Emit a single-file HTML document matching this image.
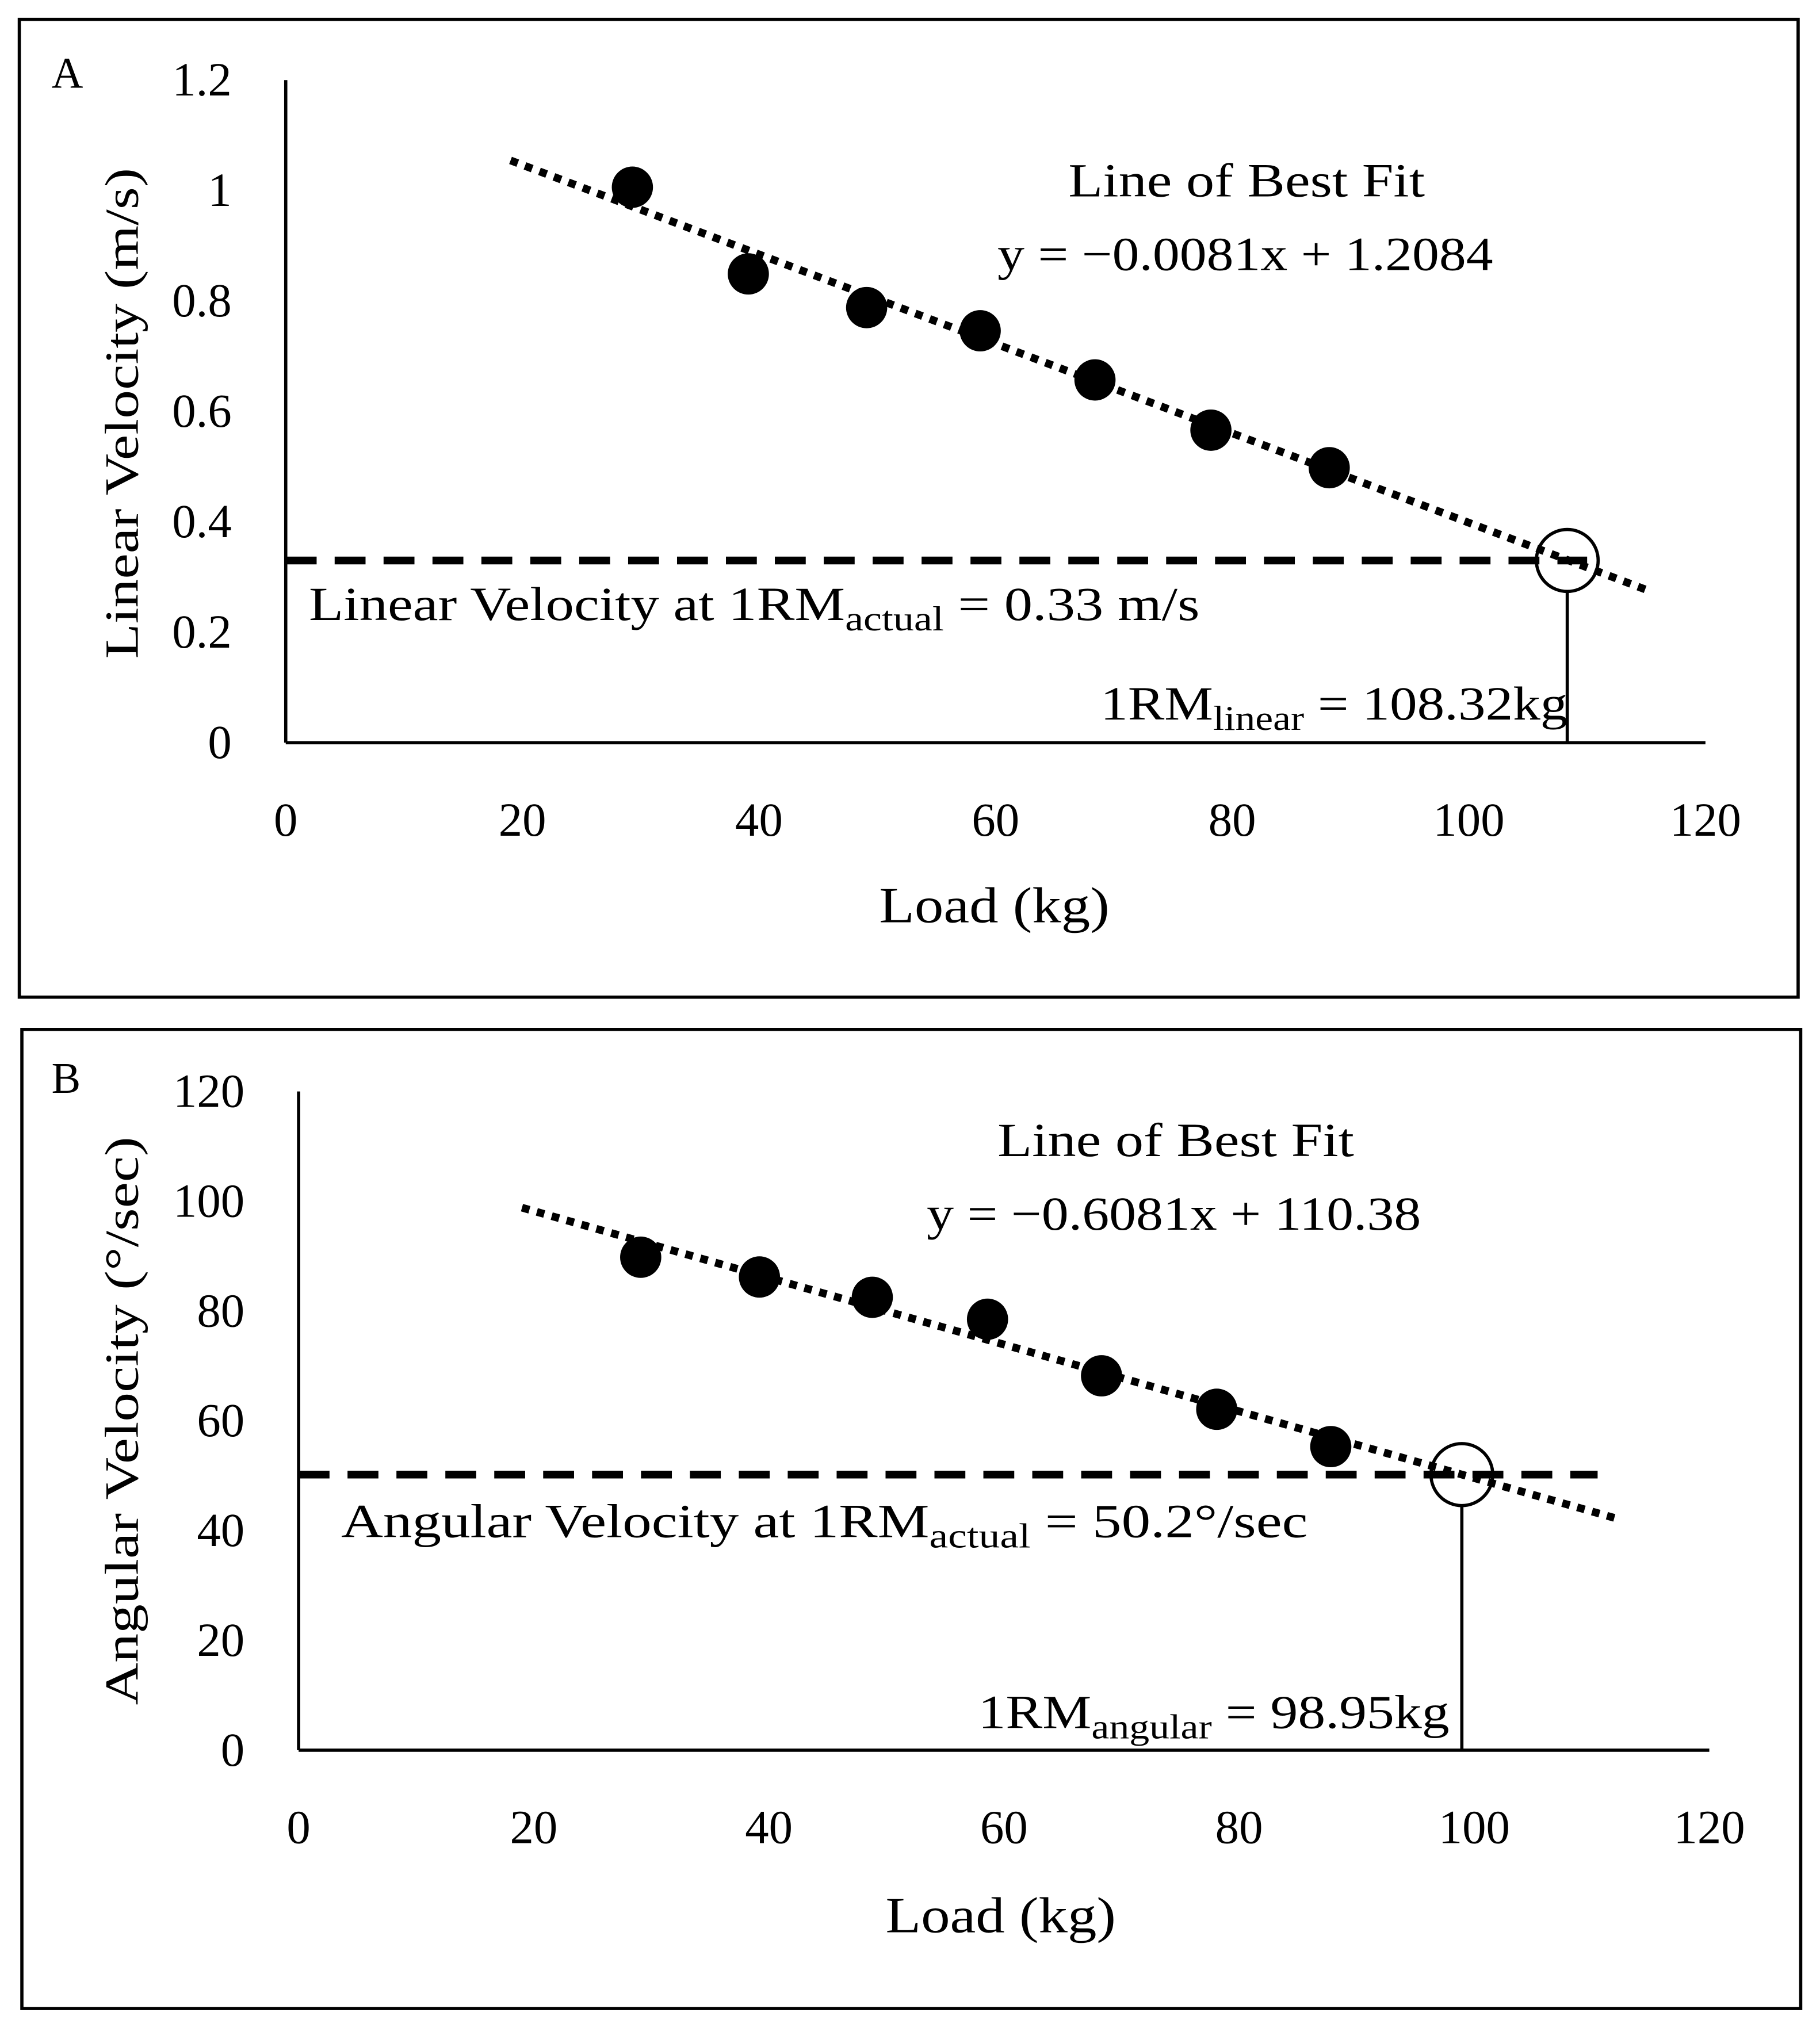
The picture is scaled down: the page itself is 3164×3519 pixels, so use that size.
<!DOCTYPE html>
<html><head><meta charset="utf-8">
<style>
html,body{margin:0;padding:0;background:#fff;}
svg{display:block;}
text{font-family:"Liberation Serif",serif;fill:#000;}
</style></head>
<body>
<svg id="fig" width="3164" height="3519" viewBox="0 0 1414 1567" preserveAspectRatio="none" xmlns="http://www.w3.org/2000/svg">
<rect x="15" y="15" width="1382" height="757" fill="#fff" stroke="#000" stroke-width="2.5"/>
<rect x="17" y="797" width="1382" height="758" fill="#fff" stroke="#000" stroke-width="2.5"/>
<g id="pa"></g>
<g id="pb"></g>
</svg>
<script>
const loadsA = [29.3, 39.1, 49.1, 58.7, 68.4, 78.2, 88.2];
const velA = [1.006, 0.849, 0.788, 0.746, 0.657, 0.566, 0.498];
const fitA = [-0.0081, 1.2084];
const refA = [0.33, 108.32];
const xTicks = [0, 20, 40, 60, 80, 100, 120];
const yTicksA = [0, 0.2, 0.4, 0.6, 0.8, 1, 1.2];
const loadsB = [29.1, 39.2, 48.8, 58.6, 68.3, 78.1, 87.8];
const velB = [89.8, 86.2, 82.5, 78.5, 68.2, 62.1, 55.3];
const fitB = [-0.6081, 110.38];
const refB = [50.2, 98.95];
const yTicksB = [0, 20, 40, 60, 80, 100, 120];

const NS = "http://www.w3.org/2000/svg";
function mk(parent, tag, attrs, txt){
  const e = document.createElementNS(NS, tag);
  for (const k in attrs) e.setAttribute(k, attrs[k]);
  if (txt !== undefined) e.textContent = txt;
  parent.appendChild(e);
  return e;
}

function panel(g, cfg){
  const X = v => cfg.x0 + (v - 0) / 120 * (cfg.x1 - cfg.x0);
  const Y = v => cfg.y0 - v / cfg.ymax * (cfg.y0 - cfg.y1);
  let e;
  e = mk(g, 'line', {x1:X(0), y1:Y(0), x2:X(0), y2:cfg.y1, stroke:'#000','stroke-width':2.5});
  
  
  e = mk(g, 'line', {x1:X(0), y1:Y(0), x2:X(120), y2:Y(0), stroke:'#000','stroke-width':2.5});
  
  
  cfg.xt.forEach(t => {
    e = mk(g, 'text', {x:X(t), y:cfg.y0 + 72, 'text-anchor':'middle','font-size':37}, String(t));
    
    
  });
  cfg.yt.forEach(t => {
    e = mk(g, 'text', {x:cfg.ylx, y:Y(t) + 12, 'text-anchor':'end','font-size':37}, String(t));
    
    
  });
  const fx0 = cfg.fitRange[0], fx1 = cfg.fitRange[1];
  e = mk(g, 'line', {x1:X(fx0), y1:Y(cfg.fit[0]*fx0 + cfg.fit[1]), x2:X(fx1), y2:Y(cfg.fit[0]*fx1 + cfg.fit[1]), stroke:'#000','stroke-width':6,'stroke-dasharray':'6 6'});
  
  
  e = mk(g, 'line', {x1:X(0), y1:Y(cfg.ref[0]), x2:X(cfg.dashEnd), y2:Y(cfg.ref[0]), stroke:'#000','stroke-width':6,'stroke-dasharray':'24 14'});
  
  
  e = mk(g, 'line', {x1:X(cfg.ref[1]), y1:Y(cfg.ref[0]) + 24, x2:X(cfg.ref[1]), y2:Y(0), stroke:'#000','stroke-width':2.5});
  
  
  e = mk(g, 'circle', {cx:X(cfg.ref[1]), cy:Y(cfg.ref[0]), r:24, fill:'none', stroke:'#000','stroke-width':2.5});
  
  
  cfg.xs.forEach((x, i) => {
    e = mk(g, 'circle', {cx:X(x), cy:Y(cfg.ys[i]), r:16, fill:'#000'});
    
    
  });
}

const pa = document.getElementById('pa');
panel(pa, {x0:222, x1:1325, y0:575, y1:62, ymax:1.2, xt:xTicks, yt:yTicksA, ylx:180,
  xs:loadsA, ys:velA, fit:fitA, ref:refA, fitRange:[19,115], dashEnd:110});
const pb = document.getElementById('pb');
panel(pb, {x0:232, x1:1328, y0:1355, y1:845, ymax:120, xt:xTicks, yt:yTicksB, ylx:190,
  xs:loadsB, ys:velB, fit:fitB, ref:refB, fitRange:[19,112], dashEnd:110.5});
</script>
<script>
(function(){
const svg = document.getElementById('fig');
const L = 'lengthAdjust="spacingAndGlyphs"';
const html = `
<text x="40" y="68" font-size="34">A</text>
<text x="830" y="152" font-size="37" textLength="277" ${L}>Line of Best Fit</text>
<text x="775" y="209" font-size="37" textLength="385" ${L}>y = −0.0081x + 1.2084</text>
<text x="240" y="480" font-size="37" textLength="692" ${L}>Linear Velocity at 1RM<tspan font-size="27" dy="8">actual</tspan><tspan dy="-8"> = 0.33 m/s</tspan></text>
<text x="855" y="557" font-size="37" textLength="363" ${L}>1RM<tspan font-size="27" dy="8">linear</tspan><tspan dy="-8"> = 108.32kg</tspan></text>
<text x="683" y="714" font-size="39" textLength="179" ${L}>Load (kg)</text>
<text transform="translate(107,510) rotate(-90)" font-size="37" textLength="380" ${L}>Linear Velocity (m/s)</text>
<text x="40" y="846" font-size="34">B</text>
<text x="775" y="895" font-size="37" textLength="277" ${L}>Line of Best Fit</text>
<text x="720" y="952" font-size="37" textLength="384" ${L}>y = −0.6081x + 110.38</text>
<text x="265" y="1190" font-size="37" textLength="751" ${L}>Angular Velocity at 1RM<tspan font-size="27" dy="8">actual</tspan><tspan dy="-8">  = 50.2°/sec</tspan></text>
<text x="760" y="1338" font-size="37" textLength="366" ${L}>1RM<tspan font-size="27" dy="8">angular</tspan><tspan dy="-8"> = 98.95kg</tspan></text>
<text x="688" y="1496" font-size="39" textLength="179" ${L}>Load (kg)</text>
<text transform="translate(107,1320) rotate(-90)" font-size="37" textLength="440" ${L}>Angular Velocity (°/sec)</text>`;
svg.insertAdjacentHTML('beforeend', html);
})();
</script>
</body></html>
